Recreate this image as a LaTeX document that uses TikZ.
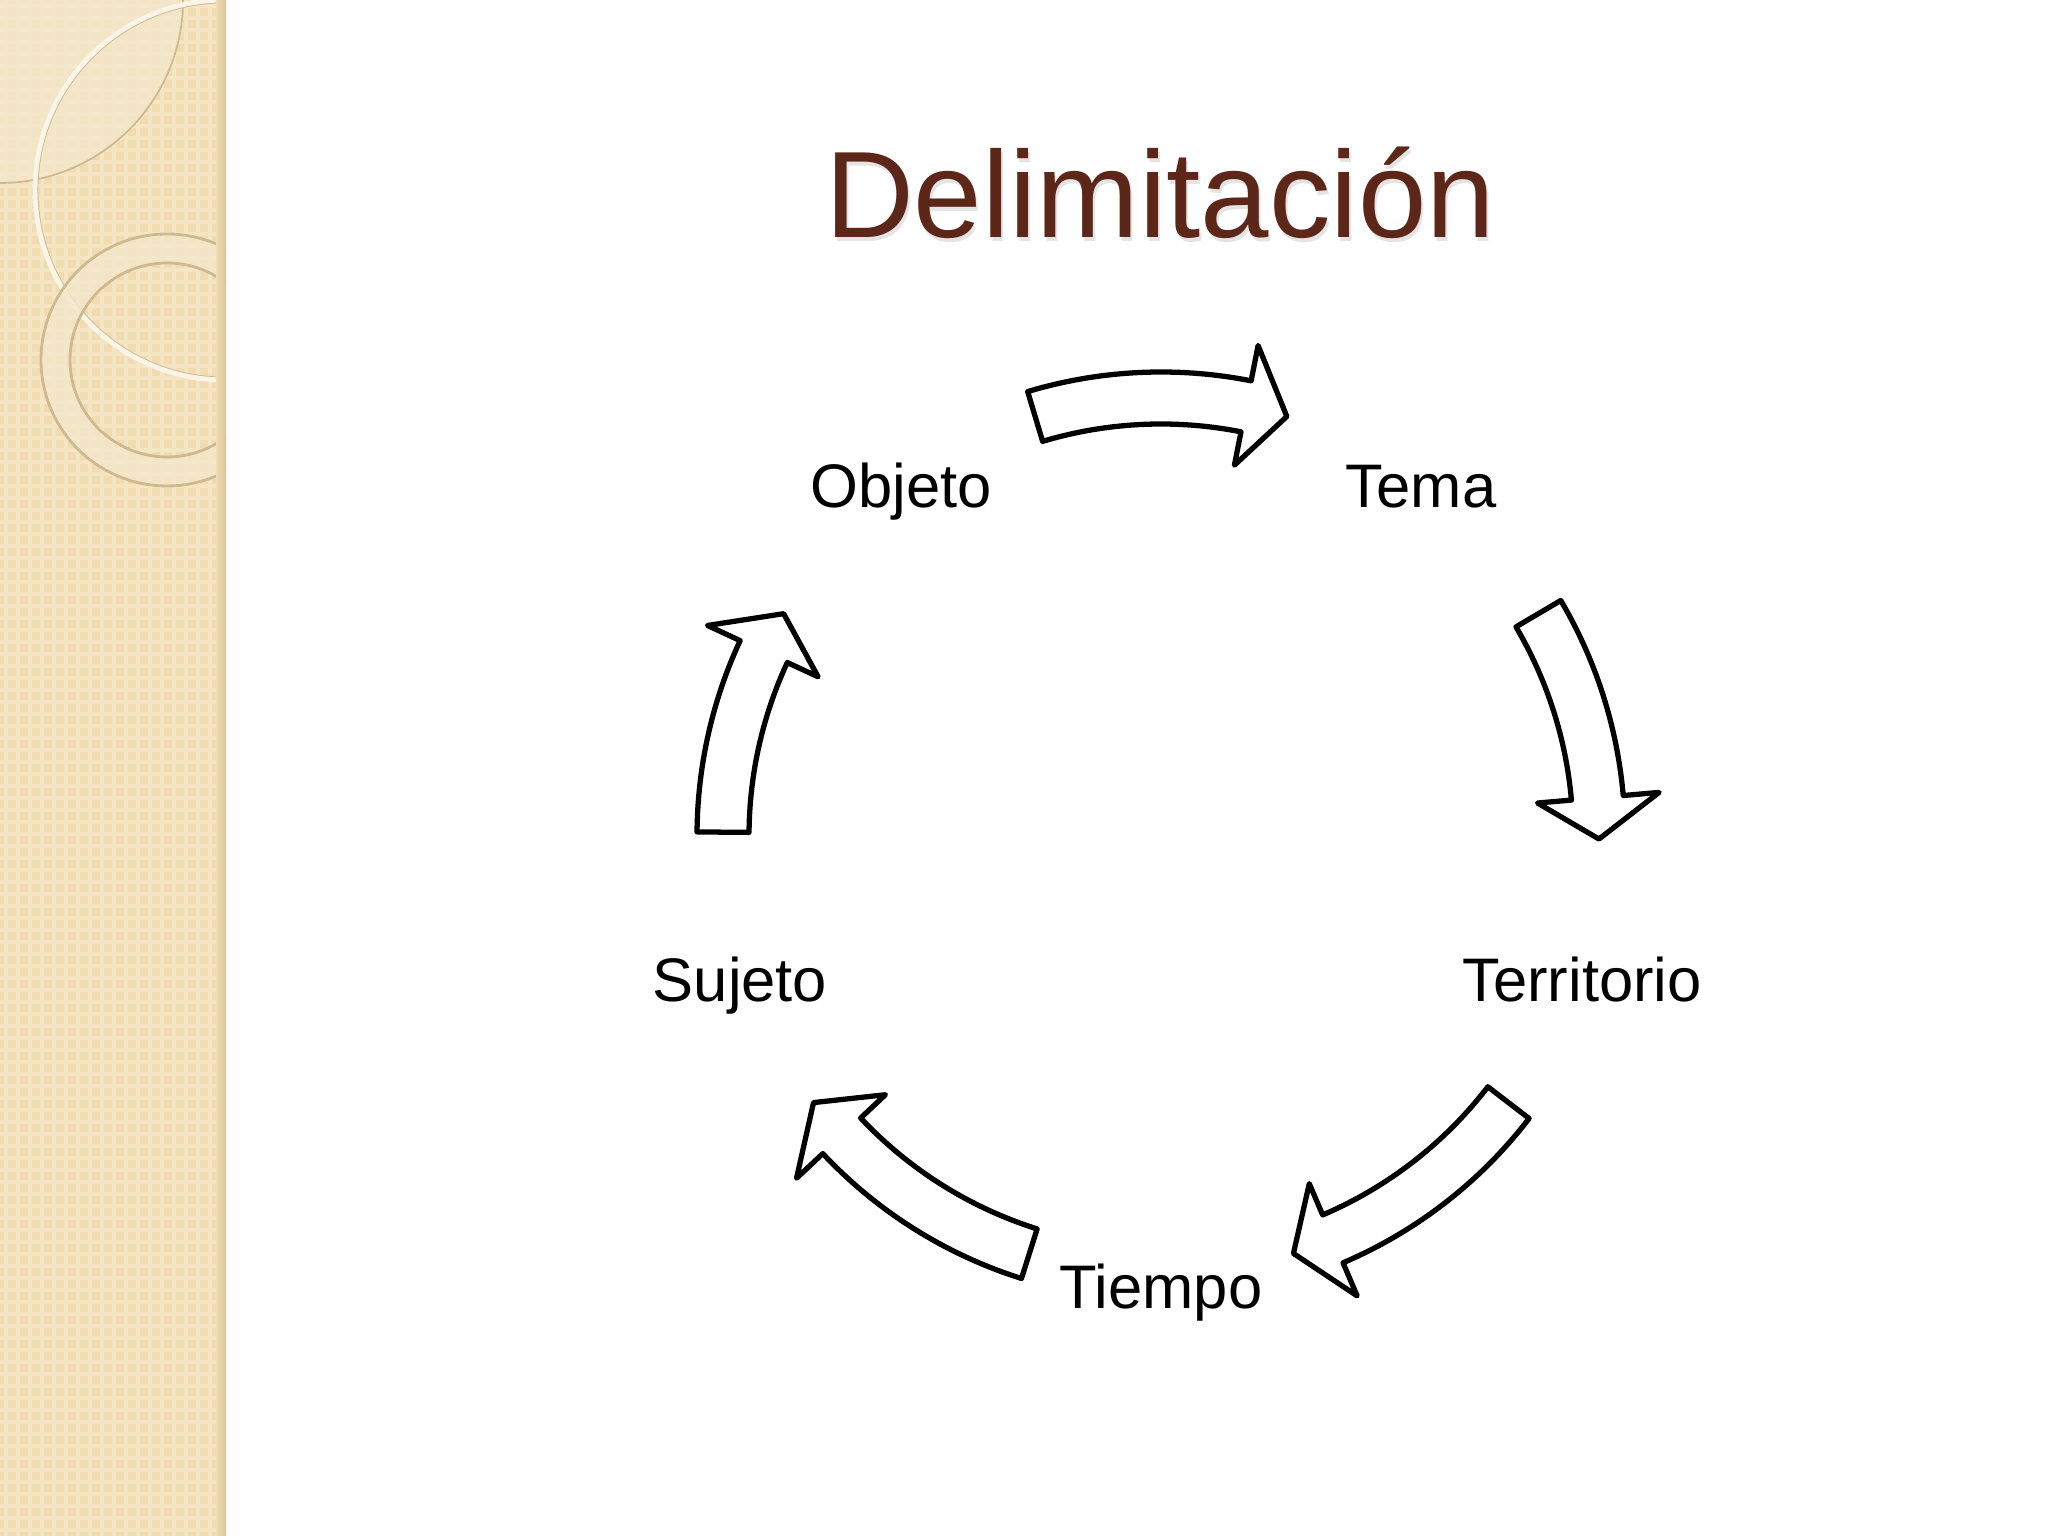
\documentclass[tikz,border=0pt]{standalone}
\usepackage{fontspec}
\setmainfont{Liberation Sans}
\usepackage{tikz}
\usetikzlibrary{positioning}

\definecolor{titlebrown}{HTML}{5C2618}
\definecolor{stripbeige}{HTML}{F0DCB0}
\definecolor{stripgrid}{HTML}{F4E5C3}
\definecolor{stripedge}{HTML}{D9C49C}
\definecolor{ringcream}{HTML}{F3E7CB}
\definecolor{ringline}{HTML}{CFBA90}

% block arrow on the cycle: tail angle, head base angle, tip angle
\newcommand{\cyclearrow}[3]{%
  \draw[blockarrow] (#1:4.64) arc[start angle=#1, end angle=#2, radius=4.64]
    -- (#2:5.00) -- (#3:4.38) -- (#2:3.78) -- (#2:4.12)
    arc[start angle=#2, end angle=#1, radius=4.12] -- cycle;
}

\begin{document}
\begin{tikzpicture}

	\tikzset{
		blockarrow/.style={
				draw=black, fill=white, line width=1.5pt, line join=round
			},
		cyclelabel/.style={
				anchor=base, inner sep=0pt, font=\fontsize{17.5}{21}\selectfont
			},
		titletext/.style={
				anchor=base, inner sep=0pt, text=titlebrown, font=\fontsize{35}{42}\selectfont
			},
	}

	\useasboundingbox (0,0) rectangle (20.48,15.36);
	\fill[white] (0,0) rectangle (20.48,15.36);

	% left strip
	\fill[stripbeige] (0,0) rectangle (2.26,15.36);
	\foreach \i in {0,...,18}
	\draw[stripgrid, line width=1pt] (0.06+0.12*\i,0) -- (0.06+0.12*\i,15.36);
	\foreach \j in {0,...,127}
	\draw[stripgrid, line width=1pt] (0,0.06+0.12*\j) -- (2.26,0.06+0.12*\j);
	\begin{scope}
		\clip (0,0) rectangle (2.26,15.36);
		\fill[ringcream, opacity=0.8] (0,15.36) -- (1.83,15.36) arc[start angle=0, end angle=-90, radius=1.83] -- cycle;
		\draw[ringline, line width=0.5pt] (1.83,15.36) arc[start angle=0, end angle=-90, radius=1.83];
		\draw[ringline, line width=0.5pt] (2.25,13.46) circle[radius=1.875];
		\draw[white!70!stripbeige, line width=1.4pt] (2.25,13.46) circle[radius=1.90];
		\fill[ringcream, opacity=0.8, even odd rule] (1.67,11.76) circle[radius=1.26] (1.67,11.76) circle[radius=0.97];
		\draw[ringline, line width=0.8pt] (1.67,11.76) circle[radius=1.26];
		\draw[ringline, line width=0.8pt] (1.67,11.76) circle[radius=0.97];
	\end{scope}
	\shade[left color=stripbeige, right color=stripedge] (2.16,0) rectangle (2.26,15.36);

	% title
	\node[titletext, text=black!30, opacity=0.35] (titleshadow) at (11.62,12.94) {Delimitación};
	\node[titletext] (title) at (11.60,12.98) {Delimitación};

	% labels
	\node[cyclelabel] (objeto) at (9.01,10.28) {Objeto};
	\node[cyclelabel] (tema) at (14.21,10.28) {Tema};
	\node[cyclelabel] (territorio) at (15.82,5.34) {Territorio};
	\node[cyclelabel] (tiempo) at (11.61,2.27) {Tiempo};
	\node[cyclelabel] (sujeto) at (7.40,5.34) {Sujeto};

	% arrows
	\begin{scope}[shift={(11.61,7.00)}]
		\cyclearrow{106.7}{78.8}{73.3}
		\cyclearrow{30.5}{5.0}{-0.4}
		\cyclearrow{-37.5}{-66.9}{-72.4}
		\cyclearrow{-107.5}{-136.8}{-142.5}
		\cyclearrow{179.5}{155.1}{149.5}
	\end{scope}

\end{tikzpicture}
\end{document}
